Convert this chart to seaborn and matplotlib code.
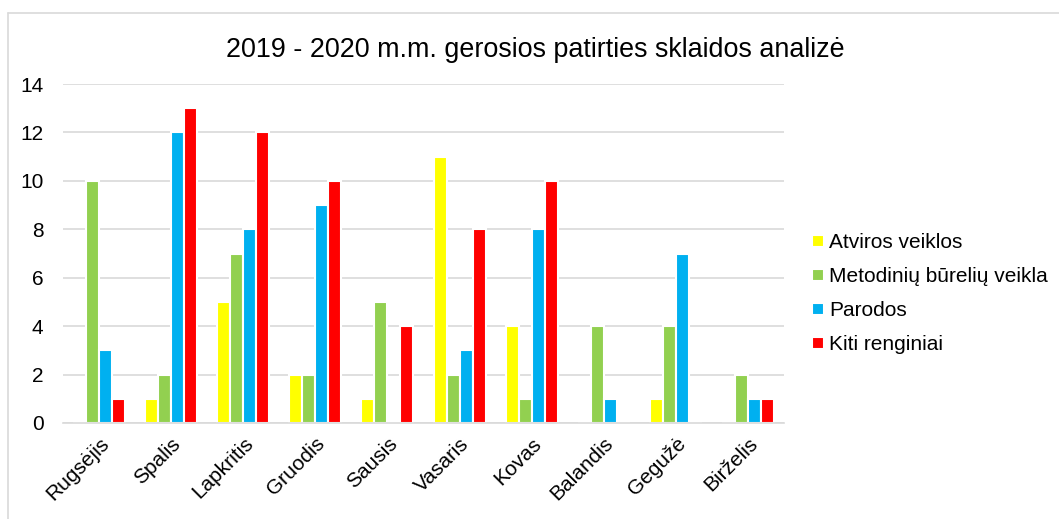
import matplotlib
matplotlib.use("Agg")
import matplotlib.pyplot as plt
import matplotlib.lines as mlines
import pandas as pd
import seaborn as sns

months = ["Rugsėjis", "Spalis", "Lapkritis", "Gruodis", "Sausis",
          "Vasaris", "Kovas", "Balandis", "Gegužė", "Birželis"]
series_names = ["Atviros veiklos", "Metodinių būrelių veikla", "Parodos", "Kiti renginiai"]
atviros = [0, 1, 5, 2, 1, 11, 4, 0, 1, 0]
metodiniai = [10, 2, 7, 2, 5, 2, 1, 4, 4, 2]
parodos = [3, 12, 8, 9, 0, 3, 8, 1, 7, 1]
kiti = [1, 13, 12, 10, 4, 8, 10, 0, 0, 1]
colors = ["#FFFF00", "#92D050", "#00B0F0", "#FF0000"]

rows = []
for name, vals in zip(series_names, [atviros, metodiniai, parodos, kiti]):
    for m, v in zip(months, vals):
        rows.append({"month": m, "series": name, "value": v})
df = pd.DataFrame(rows)

sns.set_theme(style="white")
plt.rcParams["font.family"] = ["Liberation Sans", "DejaVu Sans"]
plt.rcParams["text.color"] = "black"

fig = plt.figure(figsize=(10.59, 5.19), dpi=100)
ax = fig.add_axes([63 / 1059, 1 - 423 / 519, (784 - 63) / 1059, (423 - 84) / 519])

sns.barplot(data=df, x="month", y="value", hue="series", order=months,
            hue_order=series_names, palette=colors, saturation=1, width=0.72,
            edgecolor="white", linewidth=1.5, ax=ax, legend=True)

ax.set_ylim(0, 14)
ax.set_yticks(range(0, 15, 2))
ax.set_xlim(-0.5, len(months) - 0.5)
ax.yaxis.grid(True, color="#D9D9D9", linewidth=1.2)
ax.set_axisbelow(True)
for s in ["top", "right", "left"]:
    ax.spines[s].set_visible(False)
ax.spines["bottom"].set_color("#D9D9D9")
ax.spines["bottom"].set_linewidth(1.2)
ax.set_xlabel("")
ax.set_ylabel("")
ax.tick_params(axis="y", length=0, pad=14, labelsize=15, colors="black")
ax.tick_params(axis="x", length=0, pad=8, labelsize=15, colors="black")
for lbl in ax.get_xticklabels():
    lbl.set_rotation(45)
    lbl.set_ha("right")
    lbl.set_rotation_mode("anchor")

leg = ax.legend(loc="upper left", bbox_to_anchor=(1.013, 0.615), frameon=False,
                fontsize=15, handlelength=0.55, handleheight=0.55,
                handletextpad=0.25, labelspacing=0.72)
for t in leg.get_texts():
    t.set_color("black")

fig.suptitle("2019 - 2020 m.m. gerosios patirties sklaidos analizė",
             x=535 / 1059, y=1 - 50 / 519, va="center", fontsize=19.4, color="black")

# chart frame
fig.add_artist(mlines.Line2D([8 / 1059, 1.0], [1 - 13 / 519] * 2, color="#D9D9D9", lw=1.2))
fig.add_artist(mlines.Line2D([8 / 1059] * 2, [0, 1 - 13 / 519], color="#D9D9D9", lw=1.2))

fig.savefig("out.png", dpi=100)
